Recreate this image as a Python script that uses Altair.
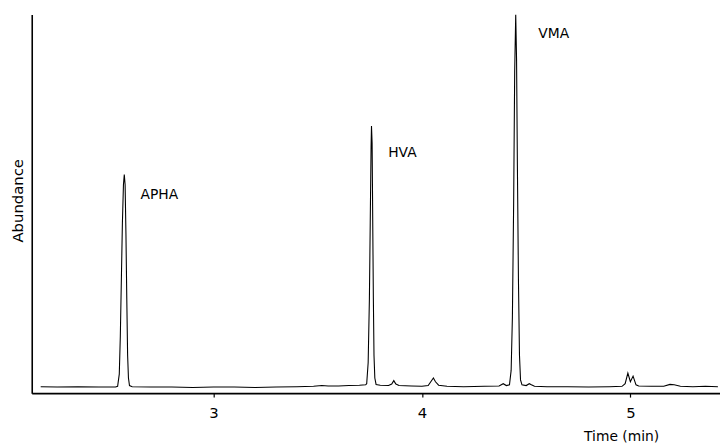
import altair as alt
import pandas as pd

# Chromatogram trace (time in min, abundance in % of VMA peak)
time = [
    2.171, 2.25, 2.35, 2.45, 2.53,
    2.540, 2.548, 2.553, 2.558, 2.563, 2.568, 2.572, 2.576, 2.580, 2.584, 2.588, 2.592, 2.597,
    2.61, 2.70, 2.80, 2.90, 3.00, 3.10, 3.20, 3.30, 3.40, 3.48, 3.52, 3.55, 3.60, 3.65, 3.70, 3.73,
    3.735, 3.742, 3.748, 3.752, 3.756, 3.758, 3.761, 3.764, 3.767, 3.770, 3.774, 3.780,
    3.80, 3.84, 3.855, 3.865, 3.875, 3.89, 3.95, 4.00, 4.03, 4.045, 4.055, 4.065, 4.08,
    4.12, 4.20, 4.30, 4.37, 4.39, 4.405,
    4.42, 4.428, 4.434, 4.440, 4.445, 4.450, 4.454, 4.458, 4.463, 4.468, 4.473, 4.48,
    4.50, 4.515, 4.525, 4.54, 4.60, 4.70, 4.80, 4.90, 4.96,
    4.975, 4.988, 5.000, 5.013, 5.027, 5.04,
    5.10, 5.16, 5.19, 5.21, 5.24, 5.30, 5.36, 5.42,
]
abundance = [
    1.7, 1.6, 1.7, 1.6, 1.6,
    1.8, 5.0, 15.0, 30.0, 45.0, 55.0, 57.7, 55.0, 42.0, 25.0, 10.0, 4.0, 2.0,
    1.7, 1.6, 1.6, 1.5, 1.6, 1.6, 1.5, 1.6, 1.7, 1.8, 2.0, 1.9, 1.9, 2.0, 2.1, 2.2,
    2.5, 8.0, 25.0, 45.0, 65.0, 70.5, 66.0, 45.0, 25.0, 10.0, 4.0, 2.3,
    2.1, 2.0, 2.4, 3.3, 2.4, 2.0, 1.9, 1.8, 2.0, 3.2, 4.0, 3.0, 2.1,
    1.8, 1.7, 1.8, 1.9, 2.5, 2.0,
    2.2, 6.0, 20.0, 50.0, 85.0, 100.0, 88.0, 60.0, 30.0, 10.0, 3.5, 2.2,
    2.0, 2.5, 2.2, 1.8, 1.7, 1.7, 1.6, 1.7, 1.8,
    2.5, 5.3, 3.0, 4.5, 2.2, 1.9,
    1.8, 1.8, 2.3, 2.2, 1.8, 1.7, 1.8, 1.7,
]

peak_names = ["APHA", "HVA", "VMA"]
label_time = [2.650, 3.838, 4.558]
label_value = [52.2, 63.4, 94.8]

x_ticks = [3, 4, 5]

trace = pd.DataFrame({"time": time, "abundance": abundance})
labels = pd.DataFrame({"name": peak_names, "time": label_time, "value": label_value})

FONT = "DejaVu Sans"

x_scale = alt.Scale(domain=[2.128, 5.43], nice=False, zero=False)
y_scale = alt.Scale(domain=[0, 100], nice=False, zero=True)

line = alt.Chart(trace).mark_line(color="black", strokeWidth=1.1, clip=True).encode(
    x=alt.X(
        "time:Q",
        scale=x_scale,
        axis=alt.Axis(
            values=x_ticks,
            title="Time (min)",
            format="d",
            tickSize=4,
            labelPadding=9,
            labelFontSize=15,
            titleFontSize=14,
            titleX=596,
            titleY=44,
            titleAlign="center",
            titleBaseline="middle",
        ),
    ),
    y=alt.Y(
        "abundance:Q",
        scale=y_scale,
        axis=alt.Axis(
            title="Abundance",
            labels=False,
            ticks=False,
            titleFontSize=15,
            titleAngle=270,
            titleX=-14,
            titleY=188,
            titleAlign="center",
            titleBaseline="middle",
        ),
    ),
)

text = alt.Chart(labels).mark_text(
    align="left", baseline="middle", font=FONT, fontSize=14, color="black"
).encode(
    x=alt.X("time:Q", scale=x_scale),
    y=alt.Y("value:Q", scale=y_scale),
    text="name:N",
)

chart = (
    alt.layer(line, text)
    .properties(
        width=696,
        height=383,
        autosize=alt.AutoSizeParams(type="none"),
        padding={"left": 24, "top": 4, "right": 0, "bottom": 51},
        background="white",
    )
    .configure_view(stroke=None)
    .configure_axis(
        grid=False,
        domainColor="black",
        domainWidth=1.6,
        tickColor="black",
        tickWidth=1.2,
        labelColor="black",
        titleColor="black",
        labelFont=FONT,
        titleFont=FONT,
        titleFontWeight="normal",
    )
)

chart.save("out.html", embed_options={"renderer": "svg", "actions": False})
